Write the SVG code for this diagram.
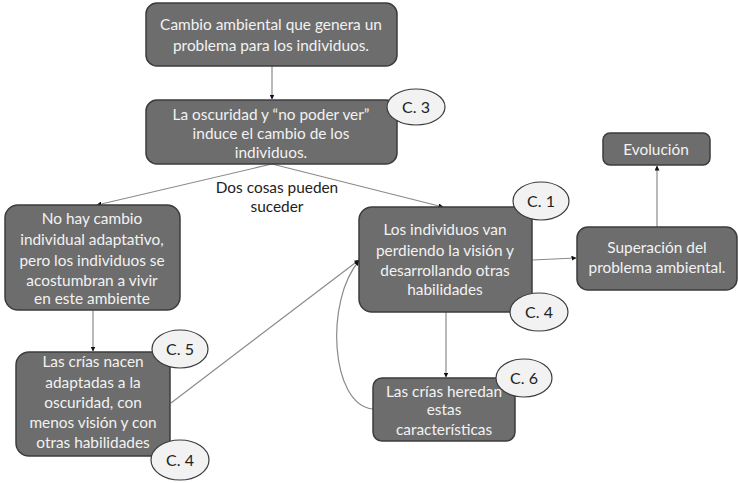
<svg xmlns="http://www.w3.org/2000/svg" width="738" height="483" viewBox="0 0 738 483">
<style>
.box{fill:#6d6d6d;stroke:#3c3c3c;stroke-width:1.5}
.t{font-family:Lato,"Open Sans",sans-serif;font-size:15.4px;fill:#f2f2f2;text-anchor:middle}
.lbl{font-family:Lato,"Open Sans",sans-serif;font-size:15.4px;fill:#222;text-anchor:middle}
.el{fill:#f2f2f2;stroke:#3c3c3c;stroke-width:1.2}
.et{font-family:Lato,"Open Sans",sans-serif;font-size:16px;fill:#222;text-anchor:middle}
.c{fill:none;stroke:#8a8a8a;stroke-width:1.2}
</style>
<defs>
<marker id="ah" viewBox="0 0 10 10" refX="9" refY="5" markerWidth="5" markerHeight="5" orient="auto" markerUnits="userSpaceOnUse">
<path d="M0,0 L10,5 L0,10 z" fill="#111"/>
</marker>
</defs>
<rect width="738" height="483" fill="#ffffff"/>
<g id="connectors">
<path class="c" d="M272,66 L272,99" marker-end="url(#ah)"/>
<path class="c" d="M272,164 L97,205" marker-end="url(#ah)"/>
<path class="c" d="M272,164 L443,207" marker-end="url(#ah)"/>
<path class="c" d="M93,310 L93,351" marker-end="url(#ah)"/>
<path class="c" d="M171,403 L359,260" marker-end="url(#ah)"/>
<path class="c" d="M373,409 C330,405 325,300 359,261" marker-end="url(#ah)"/>
<path class="c" d="M532,260 L576,258" marker-end="url(#ah)"/>
<path class="c" d="M657,227 L657,166" marker-end="url(#ah)"/>
<path class="c" d="M446,312 L446,377" marker-end="url(#ah)"/>
<text class="lbl" x="277" y="193">Dos cosas pueden</text>
<text class="lbl" x="277" y="212">suceder</text>
</g>
<g id="n1">
<rect class="box" x="146" y="3" width="251" height="63" rx="11"/>
<text class="t" x="271" y="30">Cambio ambiental que genera un</text>
<text class="t" x="271" y="51">problema para los individuos.</text>
</g>
<g id="n2">
<rect class="box" x="146" y="100" width="251" height="64" rx="11"/>
<text class="t" x="271" y="120">La oscuridad y “no poder ver”</text>
<text class="t" x="271" y="139">induce el cambio de los</text>
<text class="t" x="271" y="158">individuos.</text>
</g>
<g id="c3">
<ellipse class="el" cx="416" cy="107" rx="29" ry="18"/>
<text class="et" x="416" y="113">C. 3</text>
</g>
<g id="n3">
<rect class="box" x="5" y="205" width="175" height="105" rx="13"/>
<text class="t" x="92" y="224">No hay cambio</text>
<text class="t" x="92" y="245">individual adaptativo,</text>
<text class="t" x="92" y="266">pero los individuos se</text>
<text class="t" x="92" y="286">acostumbran a vivir</text>
<text class="t" x="92" y="304">en este ambiente</text>
</g>
<g id="n4">
<rect class="box" x="16" y="352" width="154" height="104" rx="13"/>
<text class="t" x="93" y="367">Las crías nacen</text>
<text class="t" x="93" y="388">adaptadas a la</text>
<text class="t" x="93" y="408">oscuridad, con</text>
<text class="t" x="93" y="428">menos visión y con</text>
<text class="t" x="93" y="448">otras habilidades</text>
</g>
<g id="c5">
<ellipse class="el" cx="180" cy="349" rx="28" ry="19"/>
<text class="et" x="180" y="355">C. 5</text>
</g>
<g id="c4a">
<ellipse class="el" cx="180" cy="460" rx="29" ry="20"/>
<text class="et" x="180" y="466">C. 4</text>
</g>
<g id="n5">
<rect class="box" x="359" y="207" width="173" height="105" rx="13"/>
<text class="t" x="445" y="235">Los individuos van</text>
<text class="t" x="445" y="256">perdiendo la visión y</text>
<text class="t" x="445" y="276">desarrollando otras</text>
<text class="t" x="445" y="295">habilidades</text>
</g>
<g id="c1">
<ellipse class="el" cx="541" cy="201" rx="28" ry="19"/>
<text class="et" x="541" y="207">C. 1</text>
</g>
<g id="c4b">
<ellipse class="el" cx="539" cy="312" rx="29" ry="19"/>
<text class="et" x="539" y="318">C. 4</text>
</g>
<g id="n6">
<rect class="box" x="577" y="227" width="160" height="63" rx="11"/>
<text class="t" x="657" y="253">Superación del</text>
<text class="t" x="657" y="273">problema ambiental.</text>
</g>
<g id="n7">
<rect class="box" x="603" y="133" width="107" height="32" rx="7"/>
<text class="t" x="656" y="155">Evolución</text>
</g>
<g id="n8">
<rect class="box" x="373" y="378" width="142" height="63" rx="9"/>
<text class="t" x="444" y="397">Las crías heredan</text>
<text class="t" x="444" y="415">estas</text>
<text class="t" x="444" y="435">características</text>
</g>
<g id="c6">
<ellipse class="el" cx="524" cy="378" rx="28" ry="19"/>
<text class="et" x="524" y="384">C. 6</text>
</g>
</svg>
